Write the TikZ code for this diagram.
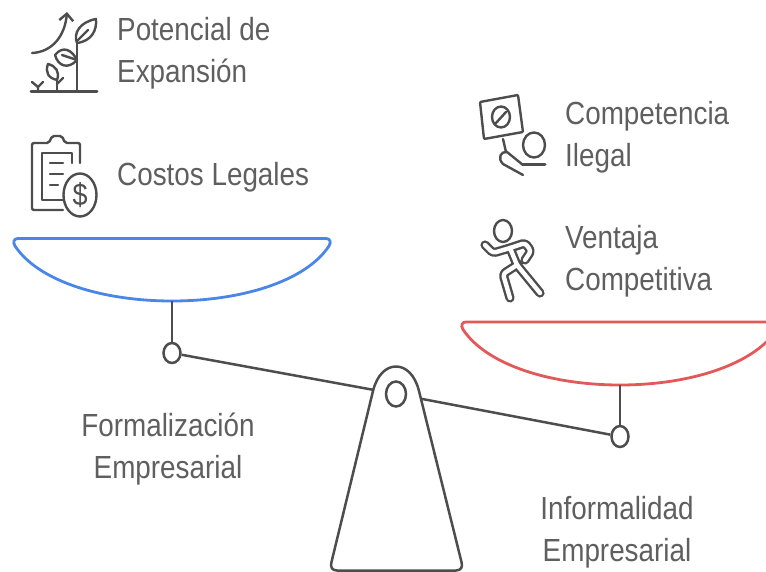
\documentclass[tikz,border=0pt]{standalone}
\usepackage{fontspec}
\setmainfont[FakeStretch=0.87]{Liberation Sans}
\usepackage{tikz}
\usetikzlibrary{shapes.geometric, arrows.meta, backgrounds}
\definecolor{inkgray}{RGB}{77, 77, 77}
\definecolor{labelgray}{RGB}{95, 95, 95}
\definecolor{panblue}{RGB}{74, 134, 232}
\definecolor{panred}{RGB}{227, 88, 88}
\tikzset{
  bar/.style={inkgray, line width=2.5pt},
  icon/.style={inkgray, line width=2.4pt, line cap=round, line join=round},
  knob/.style={ellipse, draw=inkgray, line width=2.5pt, fill=white, inner sep=0pt},
  itemlabel/.style={labelgray, anchor=west, align=left, inner xsep=0pt, font=\fontsize{32}{42}\selectfont},
  sidelabel/.style={labelgray, align=center, font=\fontsize{32}{42}\selectfont},
}

\begin{document}
\begin{tikzpicture}[x=1pt, y=-1pt]
\useasboundingbox (0,0) rectangle (766,572);

% Knobs of the beam
\node[knob, minimum width=17pt, minimum height=20pt] (leftknob) at (172,353) {};
\node[knob, minimum width=17pt, minimum height=21pt] (rightknob) at (620,436.5) {};
\node[knob, minimum width=20pt, minimum height=25pt] (pivot) at (396,394) {};

% Beam and fulcrum
\begin{scope}[on background layer]
\draw[bar] (leftknob) -- (pivot);
\draw[bar] (pivot) -- (rightknob);
\draw[bar, fill=white, line join=round] (337,570.5) -- (456,570.5)
  .. controls (461,570.5) and (463,567) .. (461.5,562)
  -- (419,391) .. controls (415,375) and (406,366.5) .. (396,366.5)
  .. controls (386,366.5) and (377,375) .. (373,391)
  -- (331.5,562) .. controls (330,567) and (332,570.5) .. (337,570.5) -- cycle;
\end{scope}

% Left pan
\coordinate (bluepan) at (172,301);
\draw[panblue, line width=2.8pt, line join=round] (18,238.5) -- (326,238.5)
  .. controls (330,238.5) and (331.5,242) .. (329,246)
  .. controls (305,282) and (240,301) .. (bluepan)
  .. controls (104,301) and (39,282) .. (15,246)
  .. controls (12.5,242) and (14,238.5) .. (18,238.5) -- cycle;
\draw[bar] (bluepan) -- (leftknob);

% Right pan, cut by the page edge
\coordinate (redpan) at (620,385);
\begin{scope}
\clip (0,0) rectangle (766,572);
\draw[panred, line width=2.8pt, line join=round] (466,322) -- (774,322)
  .. controls (778,322) and (779.5,325.5) .. (777,329.5)
  .. controls (753,365.5) and (688,385) .. (redpan)
  .. controls (552,385) and (487,365.5) .. (463,329.5)
  .. controls (460.5,325.5) and (462,322) .. (466,322) -- cycle;
\end{scope}
\draw[bar] (redpan) -- (rightknob);

% Growth icon
\draw[icon, line width=3pt] (31,91.5) -- (97,91.5);
\draw[icon] (77,91) -- (77,42);
\draw[icon] (77,43) .. controls (73,33) and (80,22) .. (96,19)
  .. controls (97,30) and (92,41) .. (77,43) -- cycle;
\draw[icon] (78,40) -- (88,30);
\draw[icon] (77,60) .. controls (72,50) and (63,45) .. (55,55)
  .. controls (58,66) and (68,70) .. (77,60) -- cycle;
\draw[icon] (62,55) -- (77,60);
\draw[icon] (57,91) -- (57,79);
\draw[icon] (57,80) .. controls (48,78) and (45,72) .. (48,64)
  .. controls (56,66) and (60,72) .. (57,80) -- cycle;
\draw[icon] (57,84) -- (63,78);
\draw[icon] (38,91) -- (38,87) -- (32,82);
\draw[icon] (38,87) -- (43,82);
\draw[icon, -{Straight Barb[length=7pt, width=14pt]}] (32,53)
  .. controls (53,52) and (65,35) .. (67,12);

% Clipboard icon
\draw[icon, rounded corners=2pt] (80,163) -- (80,143) -- (65,143) -- (62,136)
  -- (52,136) -- (49,143) -- (32,143) -- (32,210) -- (63,210);
\draw[icon] (72,163) -- (72,153) -- (42,153) -- (42,200) -- (63,200);
\draw[icon] (50,163) -- (63,163);
\draw[icon] (50,174) -- (63,174);
\draw[icon] (50,185) -- (58,185);
\draw[icon] (80,195) ellipse (16.5pt and 21.5pt);
\node[inkgray, font=\fontsize{31}{31}\selectfont] (dollar) at (80,195) {\$};

% Sign icon
\draw[icon, rounded corners=1pt] (480,102) -- (518,95) -- (523,132) -- (484,139) -- cycle;
\draw[icon] (501,117) ellipse (9pt and 10.5pt);
\draw[icon] (496,123) -- (506,112);
\draw[icon] (503,139) -- (506,152);
\draw[icon] (534,145) ellipse (11pt and 12.5pt);
\draw[icon, line width=3pt] (523,165) -- (545,165);
\draw[icon] (523,165) -- (507,152) .. controls (501,151) and (497,158) .. (503,164) -- (523,175);

% Runner icon
\draw[icon] (503,231) ellipse (9pt and 11pt);
\draw[inkgray, line width=2.4pt, double=white, double distance=4.4pt, line cap=round, line join=round, rounded corners=3pt]
  (485,245) -- (493,253) -- (510,248) -- (525,243) -- (531,251) -- (525,260)
  (510,248) -- (517,265) -- (540,293)
  (517,265) -- (503,274) -- (510,298);

% Labels
\node[itemlabel] (expansion) at (117,53) {Potencial de\\Expansión};
\node[itemlabel] (costos) at (117,177) {Costos Legales};
\node[itemlabel] (competencia) at (565,137) {Competencia\\Ilegal};
\node[itemlabel] (ventaja) at (565,261) {Ventaja\\Competitiva};
\node[sidelabel] (formal) at (168,449) {Formalización\\Empresarial};
\node[sidelabel] (informal) at (617,532) {Informalidad\\Empresarial};
\end{tikzpicture}
\end{document}
